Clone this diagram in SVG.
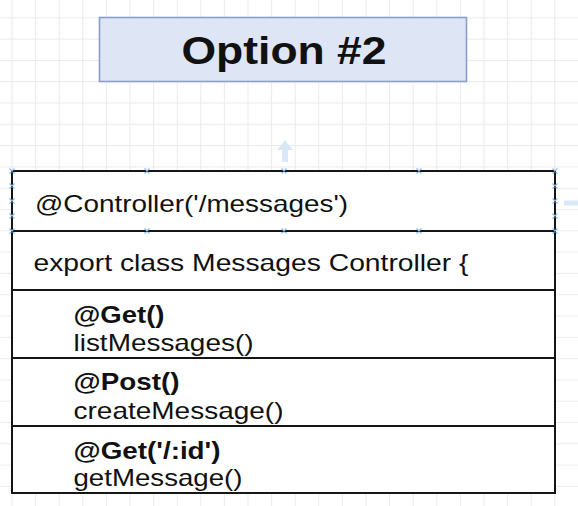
<svg xmlns="http://www.w3.org/2000/svg" width="578" height="506" viewBox="0 0 578 506">
<style>
.grid{stroke:#ebebeb;stroke-width:1;fill:none}
.row{fill:#ffffff;stroke:#151515;stroke-width:2}
.t{font-family:"Liberation Sans",Arial,Helvetica,sans-serif;font-size:24px;fill:#111111}
.b{font-weight:bold}
.hint{fill:#d9e8f6;stroke:none}
.tick{stroke:#8fbbe3;stroke-width:1.2;fill:none}
</style>
<rect width="578" height="506" fill="#ffffff"/>
<path class="grid" d="M12 0V506M35.6 0V506M59.2 0V506M82.8 0V506M106.4 0V506M130 0V506M153.6 0V506M177.2 0V506M200.8 0V506M224.4 0V506M248 0V506M271.6 0V506M295.2 0V506M318.8 0V506M342.4 0V506M366 0V506M389.6 0V506M413.2 0V506M436.8 0V506M460.4 0V506M484 0V506M507.6 0V506M531.2 0V506M554.8 0V506M0 17.8H578M0 39.1H578M0 60.4H578M0 81.7H578M0 103H578M0 124.3H578M0 145.6H578M0 166.9H578M0 188.2H578M0 209.5H578M0 230.8H578M0 252.1H578M0 273.4H578M0 294.7H578M0 316H578M0 337.3H578M0 358.6H578M0 379.9H578M0 401.2H578M0 422.5H578M0 443.8H578M0 465.1H578M0 486.4H578"/>
<g id="title">
<rect x="99.5" y="17.5" width="367" height="64" fill="#dee5f4" stroke="#8a9dcb" stroke-width="1.6"/>
<text class="t b" x="181.5" y="64" style="font-size:38px" textLength="205" lengthAdjust="spacingAndGlyphs">Option #2</text>
</g>
<g id="connectors"></g>
<g id="hints">
<path class="hint" d="M285 140L277 150H282V162H288V150H293Z"/>
<path class="hint" d="M578 200.5H564V205.5H578Z"/>
</g>
<g id="controller-decorator">
<rect class="row" x="12" y="171" width="543" height="60"/>
<text class="t" x="35" y="212" textLength="313" lengthAdjust="spacingAndGlyphs">@Controller('/messages')</text>
</g>
<g id="class-declaration">
<rect class="row" x="12" y="231" width="543" height="59"/>
<text class="t" x="33.5" y="271" textLength="435" lengthAdjust="spacingAndGlyphs">export class Messages Controller {</text>
</g>
<g id="method-get">
<rect class="row" x="12" y="290" width="543" height="68"/>
<text class="t b" x="73.5" y="323" textLength="91" lengthAdjust="spacingAndGlyphs">@Get()</text>
<text class="t" x="73.5" y="351" textLength="180" lengthAdjust="spacingAndGlyphs">listMessages()</text>
</g>
<g id="method-post">
<rect class="row" x="12" y="358" width="543" height="68"/>
<text class="t b" x="73.5" y="390" textLength="106" lengthAdjust="spacingAndGlyphs">@Post()</text>
<text class="t" x="73.5" y="418.5" textLength="210" lengthAdjust="spacingAndGlyphs">createMessage()</text>
</g>
<g id="method-get-id">
<rect class="row" x="12" y="426" width="543" height="67"/>
<text class="t b" x="73.5" y="458.5" textLength="147" lengthAdjust="spacingAndGlyphs">@Get('/:id')</text>
<text class="t" x="73.5" y="486" textLength="169" lengthAdjust="spacingAndGlyphs">getMessage()</text>
</g>
<g id="selection-ticks">
<path class="tick" d="M9.5 168.5l5 5M14.5 168.5l-5 5M144.5 168.5l5 5M149.5 168.5l-5 5M281.5 168.5l5 5M286.5 168.5l-5 5M416.5 168.5l5 5M421.5 168.5l-5 5M552.5 168.5l5 5M557.5 168.5l-5 5M9.5 228.5l5 5M14.5 228.5l-5 5M144.5 228.5l5 5M149.5 228.5l-5 5M281.5 228.5l5 5M286.5 228.5l-5 5M416.5 228.5l5 5M421.5 228.5l-5 5M552.5 228.5l5 5M557.5 228.5l-5 5M9.5 183.5l5 5M14.5 183.5l-5 5M9.5 198.5l5 5M14.5 198.5l-5 5M9.5 213.5l5 5M14.5 213.5l-5 5M552.5 183.5l5 5M557.5 183.5l-5 5M552.5 198.5l5 5M557.5 198.5l-5 5M552.5 213.5l5 5M557.5 213.5l-5 5"/>
</g>
</svg>
